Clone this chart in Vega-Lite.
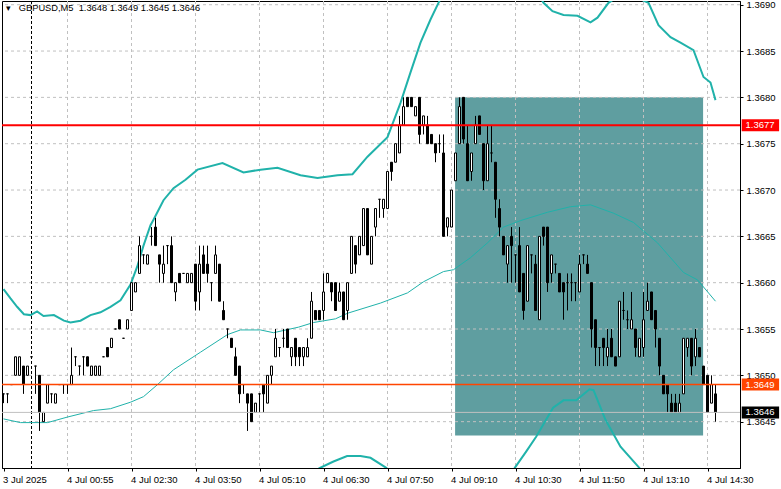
{
  "$schema": "https://vega.github.io/schema/vega-lite/v6.json",
  "width": 738,
  "height": 467,
  "autosize": {"type": "none"},
  "padding": {"left": 2, "top": 1, "right": 41, "bottom": 21},
  "background": "white",
  "title": {"text": "▾\u00a0\u00a0\u00a0GBPUSD,M5\u00a0\u00a01.3648 1.3649 1.3645 1.3646", "anchor": "start", "frame": "group", "orient": "top", "offset": -14, "dx": 4, "font": "Liberation Sans", "fontSize": 9.3, "fontWeight": "normal", "color": "black"},
  "config": {
    "view": {"stroke": "black", "strokeWidth": 1},
    "axis": {"labelFont": "Liberation Sans", "labelFontSize": 9.5, "labelColor": "black", "domainColor": "black", "tickColor": "black", "grid": false}
  },
  "datasets": {
    "candles": [
      {"i":0,"o":1.3648,"h":1.3648,"l":1.3647,"c":1.3648},
      {"i":1,"o":1.3648,"h":1.3648,"l":1.3647,"c":1.3648},
      {"i":2,"o":1.3649,"h":1.3649,"l":1.3649,"c":1.3649},
      {"i":3,"o":1.3650,"h":1.3652,"l":1.3650,"c":1.3652},
      {"i":4,"o":1.3650,"h":1.3652,"l":1.3650,"c":1.3652},
      {"i":5,"o":1.3651,"h":1.3651,"l":1.3648,"c":1.3649},
      {"i":6,"o":1.3650,"h":1.3651,"l":1.3650,"c":1.3651},
      {"i":7,"o":1.3652,"h":1.3652,"l":1.3652,"c":1.3652},
      {"i":8,"o":1.3651,"h":1.3651,"l":1.3648,"c":1.3651},
      {"i":9,"o":1.3650,"h":1.3650,"l":1.3644,"c":1.3646},
      {"i":10,"o":1.3645,"h":1.3646,"l":1.3645,"c":1.3646},
      {"i":11,"o":1.3647,"h":1.3649,"l":1.3647,"c":1.3649},
      {"i":12,"o":1.3648,"h":1.3648,"l":1.3647,"c":1.3648},
      {"i":13,"o":1.3647,"h":1.3648,"l":1.3647,"c":1.3648},
      {"i":14,"o":1.3649,"h":1.3649,"l":1.3649,"c":1.3649},
      {"i":15,"o":1.3649,"h":1.3649,"l":1.3648,"c":1.3649},
      {"i":16,"o":1.3649,"h":1.3649,"l":1.3648,"c":1.3649},
      {"i":17,"o":1.3649,"h":1.3653,"l":1.3649,"c":1.3650},
      {"i":18,"o":1.3652,"h":1.3652,"l":1.3651,"c":1.3652},
      {"i":19,"o":1.3651,"h":1.3651,"l":1.3650,"c":1.3651},
      {"i":20,"o":1.3652,"h":1.3652,"l":1.3650,"c":1.3652},
      {"i":21,"o":1.3652,"h":1.3652,"l":1.3651,"c":1.3651},
      {"i":22,"o":1.3650,"h":1.3651,"l":1.3650,"c":1.3651},
      {"i":23,"o":1.3650,"h":1.3651,"l":1.3650,"c":1.3651},
      {"i":24,"o":1.3650,"h":1.3651,"l":1.3650,"c":1.3651},
      {"i":25,"o":1.3652,"h":1.3652,"l":1.3652,"c":1.3652},
      {"i":26,"o":1.3653,"h":1.3653,"l":1.3652,"c":1.3652},
      {"i":27,"o":1.3653,"h":1.3654,"l":1.3653,"c":1.3654},
      {"i":28,"o":1.3655,"h":1.3655,"l":1.3655,"c":1.3655},
      {"i":29,"o":1.3656,"h":1.3656,"l":1.3655,"c":1.3655},
      {"i":30,"o":1.3654,"h":1.3654,"l":1.3654,"c":1.3654},
      {"i":31,"o":1.3655,"h":1.3656,"l":1.3655,"c":1.3656},
      {"i":32,"o":1.3657,"h":1.3660,"l":1.3657,"c":1.3660},
      {"i":33,"o":1.3659,"h":1.3660,"l":1.3659,"c":1.3660},
      {"i":34,"o":1.3661,"h":1.3665,"l":1.3661,"c":1.3664},
      {"i":35,"o":1.3663,"h":1.3663,"l":1.3662,"c":1.3663},
      {"i":36,"o":1.3662,"h":1.3663,"l":1.3662,"c":1.3663},
      {"i":37,"o":1.3665,"h":1.3666,"l":1.3664,"c":1.3665},
      {"i":38,"o":1.3666,"h":1.3667,"l":1.3664,"c":1.3664},
      {"i":39,"o":1.3663,"h":1.3663,"l":1.3660,"c":1.3662},
      {"i":40,"o":1.3661,"h":1.3664,"l":1.3660,"c":1.3662},
      {"i":41,"o":1.3664,"h":1.3664,"l":1.3662,"c":1.3664},
      {"i":42,"o":1.3664,"h":1.3665,"l":1.3660,"c":1.3660},
      {"i":43,"o":1.3659,"h":1.3660,"l":1.3658,"c":1.3660},
      {"i":44,"o":1.3661,"h":1.3661,"l":1.3660,"c":1.3660},
      {"i":45,"o":1.3661,"h":1.3661,"l":1.3661,"c":1.3661},
      {"i":46,"o":1.3660,"h":1.3661,"l":1.3660,"c":1.3661},
      {"i":47,"o":1.3660,"h":1.3661,"l":1.3660,"c":1.3661},
      {"i":48,"o":1.3662,"h":1.3662,"l":1.3657,"c":1.3658},
      {"i":49,"o":1.3659,"h":1.3664,"l":1.3657,"c":1.3662},
      {"i":50,"o":1.3663,"h":1.3664,"l":1.3661,"c":1.3661},
      {"i":51,"o":1.3662,"h":1.3664,"l":1.3660,"c":1.3661},
      {"i":52,"o":1.3660,"h":1.3660,"l":1.3658,"c":1.3660},
      {"i":53,"o":1.3661,"h":1.3664,"l":1.3661,"c":1.3663},
      {"i":54,"o":1.3662,"h":1.3662,"l":1.3658,"c":1.3658},
      {"i":55,"o":1.3657,"h":1.3658,"l":1.3656,"c":1.3656},
      {"i":56,"o":1.3655,"h":1.3655,"l":1.3654,"c":1.3655},
      {"i":57,"o":1.3654,"h":1.3654,"l":1.3653,"c":1.3653},
      {"i":58,"o":1.3652,"h":1.3653,"l":1.3650,"c":1.3650},
      {"i":59,"o":1.3651,"h":1.3651,"l":1.3647,"c":1.3648},
      {"i":60,"o":1.3649,"h":1.3649,"l":1.3648,"c":1.3649},
      {"i":61,"o":1.3648,"h":1.3648,"l":1.3644,"c":1.3647},
      {"i":62,"o":1.3648,"h":1.3648,"l":1.3645,"c":1.3645},
      {"i":63,"o":1.3646,"h":1.3647,"l":1.3646,"c":1.3647},
      {"i":64,"o":1.3648,"h":1.3648,"l":1.3646,"c":1.3648},
      {"i":65,"o":1.3649,"h":1.3649,"l":1.3646,"c":1.3648},
      {"i":66,"o":1.3647,"h":1.3650,"l":1.3647,"c":1.3650},
      {"i":67,"o":1.3650,"h":1.3651,"l":1.3649,"c":1.3651},
      {"i":68,"o":1.3652,"h":1.3655,"l":1.3652,"c":1.3654},
      {"i":69,"o":1.3653,"h":1.3653,"l":1.3652,"c":1.3653},
      {"i":70,"o":1.3654,"h":1.3655,"l":1.3653,"c":1.3654},
      {"i":71,"o":1.3655,"h":1.3655,"l":1.3653,"c":1.3653},
      {"i":72,"o":1.3652,"h":1.3653,"l":1.3651,"c":1.3653},
      {"i":73,"o":1.3654,"h":1.3654,"l":1.3651,"c":1.3652},
      {"i":74,"o":1.3653,"h":1.3653,"l":1.3651,"c":1.3652},
      {"i":75,"o":1.3652,"h":1.3653,"l":1.3651,"c":1.3653},
      {"i":76,"o":1.3652,"h":1.3654,"l":1.3652,"c":1.3653},
      {"i":77,"o":1.3654,"h":1.3659,"l":1.3654,"c":1.3658},
      {"i":78,"o":1.3657,"h":1.3657,"l":1.3656,"c":1.3656},
      {"i":79,"o":1.3657,"h":1.3657,"l":1.3656,"c":1.3656},
      {"i":80,"o":1.3657,"h":1.3661,"l":1.3656,"c":1.3659},
      {"i":81,"o":1.3660,"h":1.3661,"l":1.3660,"c":1.3661},
      {"i":82,"o":1.3660,"h":1.3660,"l":1.3658,"c":1.3659},
      {"i":83,"o":1.3660,"h":1.3660,"l":1.3657,"c":1.3657},
      {"i":84,"o":1.3658,"h":1.3660,"l":1.3658,"c":1.3659},
      {"i":85,"o":1.3659,"h":1.3659,"l":1.3656,"c":1.3656},
      {"i":86,"o":1.3657,"h":1.3660,"l":1.3656,"c":1.3660},
      {"i":87,"o":1.3661,"h":1.3665,"l":1.3661,"c":1.3665},
      {"i":88,"o":1.3664,"h":1.3664,"l":1.3661,"c":1.3662},
      {"i":89,"o":1.3663,"h":1.3665,"l":1.3663,"c":1.3665},
      {"i":90,"o":1.3664,"h":1.3668,"l":1.3664,"c":1.3668},
      {"i":91,"o":1.3668,"h":1.3668,"l":1.3663,"c":1.3663},
      {"i":92,"o":1.3662,"h":1.3665,"l":1.3662,"c":1.3665},
      {"i":93,"o":1.3666,"h":1.3668,"l":1.3665,"c":1.3668},
      {"i":94,"o":1.3669,"h":1.3669,"l":1.3667,"c":1.3669},
      {"i":95,"o":1.3668,"h":1.3669,"l":1.3667,"c":1.3669},
      {"i":96,"o":1.3668,"h":1.3672,"l":1.3668,"c":1.3672},
      {"i":97,"o":1.3673,"h":1.3673,"l":1.3671,"c":1.3672},
      {"i":98,"o":1.3673,"h":1.3675,"l":1.3673,"c":1.3675},
      {"i":99,"o":1.3674,"h":1.3678,"l":1.3674,"c":1.3677},
      {"i":100,"o":1.3677,"h":1.3680,"l":1.3677,"c":1.3679},
      {"i":101,"o":1.3680,"h":1.3680,"l":1.3679,"c":1.3679},
      {"i":102,"o":1.3680,"h":1.3680,"l":1.3679,"c":1.3679},
      {"i":103,"o":1.3678,"h":1.3679,"l":1.3678,"c":1.3679},
      {"i":104,"o":1.3680,"h":1.3680,"l":1.3675,"c":1.3676},
      {"i":105,"o":1.3677,"h":1.3678,"l":1.3676,"c":1.3678},
      {"i":106,"o":1.3677,"h":1.3678,"l":1.3675,"c":1.3675},
      {"i":107,"o":1.3676,"h":1.3676,"l":1.3675,"c":1.3675},
      {"i":108,"o":1.3675,"h":1.3675,"l":1.3673,"c":1.3674},
      {"i":109,"o":1.3675,"h":1.3676,"l":1.3674,"c":1.3675},
      {"i":110,"o":1.3674,"h":1.3676,"l":1.3665,"c":1.3665},
      {"i":111,"o":1.3666,"h":1.3667,"l":1.3665,"c":1.3667},
      {"i":112,"o":1.3666,"h":1.3670,"l":1.3666,"c":1.3670},
      {"i":113,"o":1.3671,"h":1.3674,"l":1.3671,"c":1.3674},
      {"i":114,"o":1.3675,"h":1.3680,"l":1.3675,"c":1.3679},
      {"i":115,"o":1.3680,"h":1.3680,"l":1.3675,"c":1.36755},
      {"i":116,"o":1.3675,"h":1.3677,"l":1.3671,"c":1.3671},
      {"i":117,"o":1.3672,"h":1.3674,"l":1.3671,"c":1.3674},
      {"i":118,"o":1.3675,"h":1.3678,"l":1.3675,"c":1.3677},
      {"i":119,"o":1.3678,"h":1.3678,"l":1.3676,"c":1.3676},
      {"i":120,"o":1.3675,"h":1.3675,"l":1.3670,"c":1.3671},
      {"i":121,"o":1.3671,"h":1.3677,"l":1.3671,"c":1.3675},
      {"i":122,"o":1.3674,"h":1.3677,"l":1.3673,"c":1.3674},
      {"i":123,"o":1.3673,"h":1.3673,"l":1.3667,"c":1.3669},
      {"i":124,"o":1.3668,"h":1.3669,"l":1.3665,"c":1.3666},
      {"i":125,"o":1.3665,"h":1.3665,"l":1.3663,"c":1.3663},
      {"i":126,"o":1.3662,"h":1.3664,"l":1.3660,"c":1.3664},
      {"i":127,"o":1.3665,"h":1.3666,"l":1.3660,"c":1.3664},
      {"i":128,"o":1.3663,"h":1.3663,"l":1.3660,"c":1.3663},
      {"i":129,"o":1.3664,"h":1.3666,"l":1.3659,"c":1.3659},
      {"i":130,"o":1.3661,"h":1.3661,"l":1.3656,"c":1.3657},
      {"i":131,"o":1.3658,"h":1.3664,"l":1.3658,"c":1.3664},
      {"i":132,"o":1.3663,"h":1.3663,"l":1.3661,"c":1.3663},
      {"i":133,"o":1.3662,"h":1.3663,"l":1.3657,"c":1.3657},
      {"i":134,"o":1.3656,"h":1.3665,"l":1.3656,"c":1.3665},
      {"i":135,"o":1.3666,"h":1.3666,"l":1.3664,"c":1.3665},
      {"i":136,"o":1.3666,"h":1.3666,"l":1.3659,"c":1.3660},
      {"i":137,"o":1.3661,"h":1.3663,"l":1.3660,"c":1.3663},
      {"i":138,"o":1.3662,"h":1.3662,"l":1.3661,"c":1.3662},
      {"i":139,"o":1.3661,"h":1.3661,"l":1.3659,"c":1.3659},
      {"i":140,"o":1.3660,"h":1.3660,"l":1.3656,"c":1.3659},
      {"i":141,"o":1.3660,"h":1.3661,"l":1.3657,"c":1.3660},
      {"i":142,"o":1.3660,"h":1.3661,"l":1.3658,"c":1.3660},
      {"i":143,"o":1.3660,"h":1.3660,"l":1.3658,"c":1.3660},
      {"i":144,"o":1.3659,"h":1.3663,"l":1.3659,"c":1.3662},
      {"i":145,"o":1.3663,"h":1.3663,"l":1.3662,"c":1.3663},
      {"i":146,"o":1.3662,"h":1.3663,"l":1.3661,"c":1.3661},
      {"i":147,"o":1.3660,"h":1.3660,"l":1.3653,"c":1.3655},
      {"i":148,"o":1.3656,"h":1.3656,"l":1.3651,"c":1.3653},
      {"i":149,"o":1.3653,"h":1.3653,"l":1.3651,"c":1.3653},
      {"i":150,"o":1.3654,"h":1.3654,"l":1.3651,"c":1.3653},
      {"i":151,"o":1.3652,"h":1.3655,"l":1.3651,"c":1.3653},
      {"i":152,"o":1.3654,"h":1.3655,"l":1.3652,"c":1.3652},
      {"i":153,"o":1.3652,"h":1.3652,"l":1.3651,"c":1.3651},
      {"i":154,"o":1.3652,"h":1.3658,"l":1.3652,"c":1.3658},
      {"i":155,"o":1.3657,"h":1.3659,"l":1.3656,"c":1.3657},
      {"i":156,"o":1.3656,"h":1.3657,"l":1.3655,"c":1.3656},
      {"i":157,"o":1.3655,"h":1.3659,"l":1.3655,"c":1.3656},
      {"i":158,"o":1.3655,"h":1.3655,"l":1.3652,"c":1.3653},
      {"i":159,"o":1.3652,"h":1.3654,"l":1.3652,"c":1.3654},
      {"i":160,"o":1.3653,"h":1.3659,"l":1.3652,"c":1.3656},
      {"i":161,"o":1.3657,"h":1.3660,"l":1.3657,"c":1.3658},
      {"i":162,"o":1.3659,"h":1.3659,"l":1.3656,"c":1.3656},
      {"i":163,"o":1.3657,"h":1.3657,"l":1.3653,"c":1.3655},
      {"i":164,"o":1.3654,"h":1.3654,"l":1.3650,"c":1.3651},
      {"i":165,"o":1.3650,"h":1.3650,"l":1.3648,"c":1.3648},
      {"i":166,"o":1.3649,"h":1.3649,"l":1.3646,"c":1.3648},
      {"i":167,"o":1.3647,"h":1.3648,"l":1.3646,"c":1.3646},
      {"i":168,"o":1.3647,"h":1.3648,"l":1.3646,"c":1.3646},
      {"i":169,"o":1.3646,"h":1.3648,"l":1.3646,"c":1.3647},
      {"i":170,"o":1.3648,"h":1.3654,"l":1.3648,"c":1.3654},
      {"i":171,"o":1.3653,"h":1.3654,"l":1.3652,"c":1.3654},
      {"i":172,"o":1.3654,"h":1.3654,"l":1.3650,"c":1.3651},
      {"i":173,"o":1.3652,"h":1.3655,"l":1.3651,"c":1.3654},
      {"i":174,"o":1.3653,"h":1.3653,"l":1.3652,"c":1.3652},
      {"i":175,"o":1.3651,"h":1.3651,"l":1.3649,"c":1.3649},
      {"i":176,"o":1.3650,"h":1.3650,"l":1.3646,"c":1.3646},
      {"i":177,"o":1.3647,"h":1.3650,"l":1.3647,"c":1.3649},
      {"i":178,"o":1.3648,"h":1.3649,"l":1.3645,"c":1.3646}
    ],
    "upper": [
      {"i":0,"v":1.36593},{"i":1.75,"v":1.36583},{"i":3.4,"v":1.36574},{"i":5.1,"v":1.36566},{"i":6.75,"v":1.36565},{"i":8.4,"v":1.36569},{"i":10,"v":1.36564},{"i":12.6,"v":1.36565},{"i":15.1,"v":1.36559},{"i":16.75,"v":1.36557},{"i":19.25,"v":1.36559},{"i":21.75,"v":1.36565},{"i":24.25,"v":1.36568},{"i":26.75,"v":1.36574},{"i":29.25,"v":1.36581},{"i":31.75,"v":1.36598},{"i":33.4,"v":1.36617},{"i":35,"v":1.3664},{"i":36.75,"v":1.36662},{"i":37.5,"v":1.36668},{"i":40,"v":1.36689},{"i":42.5,"v":1.36702},{"i":45.5,"v":1.36711},{"i":48.5,"v":1.36722},{"i":54.75,"v":1.36729},{"i":60,"v":1.36719},{"i":64.25,"v":1.36722},{"i":68.5,"v":1.36724},{"i":74.25,"v":1.36716},{"i":78.5,"v":1.36713},{"i":83.5,"v":1.36716},{"i":87.25,"v":1.36717},{"i":91,"v":1.36736},{"i":96,"v":1.36757},{"i":99.25,"v":1.36794},{"i":101.75,"v":1.36827},{"i":104.25,"v":1.36859},{"i":106.75,"v":1.36884},{"i":108.75,"v":1.36902},{"i":112,"v":1.3693},{"i":118,"v":1.3696},{"i":124,"v":1.3697},{"i":130,"v":1.3694},{"i":135,"v":1.36902},{"i":137.25,"v":1.36893},{"i":140,"v":1.36889},{"i":143.5,"v":1.36888},{"i":146.75,"v":1.36881},{"i":148.5,"v":1.36886},{"i":151.25,"v":1.36902},{"i":154,"v":1.3691},{"i":157,"v":1.3691},{"i":161.25,"v":1.36902},{"i":163.75,"v":1.36878},{"i":166.75,"v":1.36865},{"i":169.25,"v":1.36859},{"i":172.5,"v":1.36851},{"i":175,"v":1.36822},{"i":176.75,"v":1.36816},{"i":178,"v":1.36797}
    ],
    "middle": [
      {"i":0,"v":1.36453},{"i":4.25,"v":1.36449},{"i":11,"v":1.36449},{"i":16,"v":1.36455},{"i":22.5,"v":1.36462},{"i":26.75,"v":1.36464},{"i":31.75,"v":1.36471},{"i":35,"v":1.36477},{"i":38.5,"v":1.3649},{"i":42.5,"v":1.36506},{"i":49.25,"v":1.36525},{"i":56,"v":1.36544},{"i":59.25,"v":1.36549},{"i":64.25,"v":1.36549},{"i":67.5,"v":1.36546},{"i":73.75,"v":1.36552},{"i":77.5,"v":1.36557},{"i":83,"v":1.36561},{"i":86,"v":1.36567},{"i":94.25,"v":1.36578},{"i":101,"v":1.36589},{"i":105,"v":1.36601},{"i":110,"v":1.36612},{"i":112.5,"v":1.36614},{"i":116.75,"v":1.36627},{"i":121,"v":1.36643},{"i":125,"v":1.3666},{"i":129.25,"v":1.36667},{"i":136,"v":1.36676},{"i":141.75,"v":1.36682},{"i":146.75,"v":1.36684},{"i":152.5,"v":1.36675},{"i":157.5,"v":1.36665},{"i":163.5,"v":1.36643},{"i":170,"v":1.36611},{"i":173.5,"v":1.36603},{"i":178,"v":1.3658}
    ],
    "lower": [
      {"i":0,"v":1.36313},{"i":10,"v":1.36336},{"i":20,"v":1.3636},{"i":30,"v":1.3635},{"i":40,"v":1.3631},{"i":50,"v":1.36331},{"i":60,"v":1.3638},{"i":70,"v":1.3638},{"i":75,"v":1.3639},{"i":79.1,"v":1.364},{"i":82.5,"v":1.36407},{"i":85.9,"v":1.36413},{"i":89.25,"v":1.36413},{"i":91.75,"v":1.36411},{"i":95.75,"v":1.364},{"i":100,"v":1.36364},{"i":110,"v":1.36314},{"i":120,"v":1.3632},{"i":125,"v":1.3635},{"i":127.8,"v":1.364},{"i":130.7,"v":1.36418},{"i":133.2,"v":1.36434},{"i":137.4,"v":1.36465},{"i":140,"v":1.36473},{"i":143.2,"v":1.36473},{"i":146.5,"v":1.36485},{"i":147.5,"v":1.36484},{"i":150.5,"v":1.36452},{"i":154.25,"v":1.36423},{"i":159,"v":1.364},{"i":162,"v":1.3638},{"i":170,"v":1.36365},{"i":178,"v":1.36359}
    ],
    "zone": [{"i0":112.9,"i1":174.9,"p0":1.36435,"p1":1.368}],
    "gridY": [{"p":1.3645},{"p":1.365},{"p":1.3655},{"p":1.366},{"p":1.3665},{"p":1.367},{"p":1.3675},{"p":1.368},{"p":1.3685},{"p":1.369}],
    "gridX": [{"i":16},{"i":32},{"i":48},{"i":64},{"i":80},{"i":96},{"i":112},{"i":128},{"i":144},{"i":160},{"i":176}],
    "separator": [{"i":7}],
    "levels": [
      {"name":"resistance","p":1.3677,"label":"1.3677"},
      {"name":"level","p":1.3649,"label":"1.3649"},
      {"name":"bid","p":1.3646,"label":"1.3646"}
    ]
  },
  "layer": [
    {
      "data": {"name": "zone"},
      "mark": {"type": "rect", "color": "#5F9EA0", "clip": true},
      "encoding": {
        "x": {"field": "i0", "type": "quantitative", "scale": {"domain": [-0.375, 184.125], "nice": false, "zero": false, "padding": 0},
          "axis": {"title": null, "orient": "bottom", "values": [0, 16, 32, 48, 64, 80, 96, 112, 128, 144, 160, 176], "labelExpr": "['3 Jul 2025','4 Jul 00:55','4 Jul 02:30','4 Jul 03:50','4 Jul 05:10','4 Jul 06:30','4 Jul 07:50','4 Jul 09:10','4 Jul 10:30','4 Jul 11:50','4 Jul 13:10','4 Jul 14:30'][round(datum.value/16)]", "labelAlign": "left", "labelBaseline": "top", "labelPadding": 3, "labelOffset": -1, "tickSize": 3, "labelFlush": false, "labelOverlap": false}},
        "x2": {"field": "i1"},
        "y": {"field": "p0", "type": "quantitative", "scale": {"domain": [1.364, 1.36904], "nice": false, "zero": false, "padding": 0},
          "axis": {"title": null, "orient": "right", "values": [1.3645, 1.365, 1.3655, 1.366, 1.3665, 1.367, 1.3675, 1.368, 1.3685, 1.369], "format": ".4f", "tickSize": 3, "labelPadding": 3, "labelFlush": false, "labelOverlap": false, "labelBaseline": "middle"}},
        "y2": {"field": "p1"}
      }
    },
    {
      "data": {"name": "gridY"},
      "mark": {"type": "rule", "color": "#C0C0C0", "strokeDash": [3, 3], "strokeWidth": 1},
      "encoding": {"y": {"field": "p", "type": "quantitative", "scale": {"domain": [1.364, 1.36904], "nice": false, "zero": false, "padding": 0}, "axis": {"title": null}}}
    },
    {
      "data": {"name": "gridX"},
      "mark": {"type": "rule", "color": "#C0C0C0", "strokeDash": [3, 3], "strokeWidth": 1},
      "encoding": {"x": {"field": "i", "type": "quantitative", "scale": {"domain": [-0.375, 184.125], "nice": false, "zero": false, "padding": 0}, "axis": {"title": null}}}
    },
    {
      "data": {"name": "separator"},
      "mark": {"type": "rule", "color": "black", "strokeDash": [3, 2], "strokeWidth": 1},
      "encoding": {"x": {"field": "i", "type": "quantitative", "scale": {"domain": [-0.375, 184.125], "nice": false, "zero": false, "padding": 0}, "axis": {"title": null}}}
    },
    {
      "data": {"name": "upper"},
      "mark": {"type": "line", "color": "#20B2AA", "strokeWidth": 2, "clip": true},
      "encoding": {
        "x": {"field": "i", "type": "quantitative", "scale": {"domain": [-0.375, 184.125], "nice": false, "zero": false, "padding": 0}, "axis": {"title": null}},
        "y": {"field": "v", "type": "quantitative", "scale": {"domain": [1.364, 1.36904], "nice": false, "zero": false, "padding": 0}, "axis": {"title": null}}
      }
    },
    {
      "data": {"name": "middle"},
      "mark": {"type": "line", "color": "#20B2AA", "strokeWidth": 1, "clip": true},
      "encoding": {
        "x": {"field": "i", "type": "quantitative", "scale": {"domain": [-0.375, 184.125], "nice": false, "zero": false, "padding": 0}, "axis": {"title": null}},
        "y": {"field": "v", "type": "quantitative", "scale": {"domain": [1.364, 1.36904], "nice": false, "zero": false, "padding": 0}, "axis": {"title": null}}
      }
    },
    {
      "data": {"name": "lower"},
      "mark": {"type": "line", "color": "#20B2AA", "strokeWidth": 2, "clip": true},
      "encoding": {
        "x": {"field": "i", "type": "quantitative", "scale": {"domain": [-0.375, 184.125], "nice": false, "zero": false, "padding": 0}, "axis": {"title": null}},
        "y": {"field": "v", "type": "quantitative", "scale": {"domain": [1.364, 1.36904], "nice": false, "zero": false, "padding": 0}, "axis": {"title": null}}
      }
    },
    {
      "data": {"name": "candles"},
      "mark": {"type": "rule", "color": "black", "strokeWidth": 1},
      "encoding": {
        "x": {"field": "i", "type": "quantitative", "scale": {"domain": [-0.375, 184.125], "nice": false, "zero": false, "padding": 0}, "axis": {"title": null}},
        "y": {"field": "l", "type": "quantitative", "scale": {"domain": [1.364, 1.36904], "nice": false, "zero": false, "padding": 0}, "axis": {"title": null}},
        "y2": {"field": "h"}
      }
    },
    {
      "data": {"name": "candles"},
      "mark": {"type": "bar", "size": 2, "stroke": "black", "strokeWidth": 1, "orient": "vertical"},
      "encoding": {
        "x": {"field": "i", "type": "quantitative", "scale": {"domain": [-0.375, 184.125], "nice": false, "zero": false, "padding": 0}, "axis": {"title": null}},
        "y": {"field": "o", "type": "quantitative", "scale": {"domain": [1.364, 1.36904], "nice": false, "zero": false, "padding": 0}, "axis": {"title": null}},
        "y2": {"field": "c"},
        "fill": {"condition": {"test": "datum.c < datum.o", "value": "black"}, "value": "white"}
      }
    },
    {
      "data": {"name": "levels"},
      "mark": {"type": "rule", "clip": true},
      "encoding": {
        "y": {"field": "p", "type": "quantitative", "scale": {"domain": [1.364, 1.36904], "nice": false, "zero": false, "padding": 0}, "axis": {"title": null}},
        "color": {"field": "name", "type": "nominal", "scale": {"domain": ["resistance", "level", "bid"], "range": ["#FF0000", "#FF4500", "#C0C0C0"]}, "legend": null},
        "strokeWidth": {"field": "name", "type": "nominal", "scale": {"domain": ["resistance", "level", "bid"], "range": [2, 1, 1]}, "legend": null}
      }
    },
    {
      "data": {"name": "levels"},
      "mark": {"type": "bar", "size": 12, "orient": "horizontal"},
      "encoding": {
        "x": {"datum": 184.55, "type": "quantitative", "scale": {"domain": [-0.375, 184.125], "nice": false, "zero": false, "padding": 0}, "axis": {"title": null}},
        "x2": {"datum": 193.9},
        "y": {"field": "p", "type": "quantitative", "scale": {"domain": [1.364, 1.36904], "nice": false, "zero": false, "padding": 0}, "axis": {"title": null}},
        "color": {"field": "name", "type": "nominal", "scale": {"domain": ["resistance", "level", "bid"], "range": ["#FF0000", "#FF4500", "#000000"]}, "legend": null}
      }
    },
    {
      "data": {"name": "levels"},
      "mark": {"type": "text", "align": "left", "baseline": "middle", "color": "white", "font": "Liberation Sans", "fontSize": 9.5},
      "encoding": {
        "x": {"datum": 185.5, "type": "quantitative", "scale": {"domain": [-0.375, 184.125], "nice": false, "zero": false, "padding": 0}, "axis": {"title": null}},
        "y": {"field": "p", "type": "quantitative", "scale": {"domain": [1.364, 1.36904], "nice": false, "zero": false, "padding": 0}, "axis": {"title": null}},
        "text": {"field": "label"}
      }
    }
  ],
  "resolve": {"scale": {"color": "independent", "strokeWidth": "independent"}}
}
